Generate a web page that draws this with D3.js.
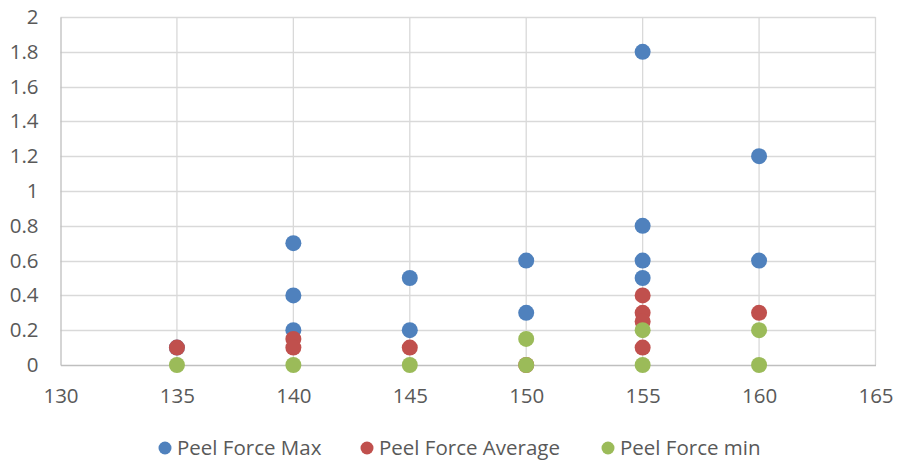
<!DOCTYPE html>
<html><head><meta charset="utf-8">
<script src="https://cdn.jsdelivr.net/npm/d3@7"></script>
<style>body{margin:0;background:#fff}svg text{font-family:"Open Sans",sans-serif;fill:#595959}</style>
</head><body><svg id="c" width="902" height="461"></svg>
<script>
const maxX = [135,140,140,140,145,145,150,150,155,155,155,155,160,160];
const maxY = [0.1,0.7,0.4,0.2,0.5,0.2,0.6,0.3,1.8,0.8,0.6,0.5,1.2,0.6];
const avgX = [135,140,140,145,150,155,155,155,155,160];
const avgY = [0.1,0.15,0.1,0.1,0,0.4,0.3,0.25,0.1,0.3];
const minX = [135,140,145,150,150,155,155,160,160];
const minY = [0,0,0,0.15,0,0.2,0,0.2,0];
const seriesNames = ["Peel Force Max","Peel Force Average","Peel Force min"];
const colors = ["#4F81BD","#C0504D","#9BBB59"];
const xTicks = [130,135,140,145,150,155,160,165];
const yTicks = [0,0.2,0.4,0.6,0.8,1,1.2,1.4,1.6,1.8,2];

const svg = d3.select("#c");
const x = d3.scaleLinear().domain([130,165]).range([60.5,875.5]);
const y = d3.scaleLinear().domain([0,2]).range([365,17]);
const FS = "20.5px";

const g = svg.append("g");
g.selectAll(".hg").data(yTicks.slice(1)).join("line")
 .attr("x1",x(130)).attr("x2",x(165)).attr("y1",d=>Math.round(y(d))+0.5).attr("y2",d=>Math.round(y(d))+0.5)
 .attr("stroke","#d9d9d9").attr("stroke-width",1.3);
g.selectAll(".vg").data(xTicks.slice(1)).join("line")
 .attr("x1",d=>x(d)).attr("x2",d=>x(d)).attr("y1",y(0)).attr("y2",y(2))
 .attr("stroke","#d9d9d9").attr("stroke-width",1.3);

const xAxis = d3.axisBottom(x).tickValues(xTicks).tickSize(0).tickPadding(23).tickFormat(d3.format("d"));
const xa = svg.append("g").attr("transform",`translate(0,${y(0)})`).call(xAxis);
xa.select(".domain").attr("stroke","#bfbfbf").attr("stroke-width",1.3);
xa.selectAll("text").style("font-size",FS).attr("fill","#595959");
const yAxis = d3.axisLeft(y).tickValues(yTicks).tickSize(0).tickPadding(22).tickFormat(d=>String(d));
const ya = svg.append("g").attr("transform",`translate(${x(130)},0)`).call(yAxis);
ya.select(".domain").attr("stroke","#bfbfbf").attr("stroke-width",1.3);
ya.selectAll("text").style("font-size",FS).attr("fill","#595959");

const data = [d3.zip(maxX,maxY), d3.zip(avgX,avgY), d3.zip(minX,minY)];
data.forEach((pts,i)=>{
  svg.append("g").selectAll("circle").data(pts).join("circle")
   .attr("cx",d=>x(d[0])).attr("cy",d=>y(d[1])).attr("r",8).attr("fill",colors[i]);
});

const legX = [165,367,608];
const lg = svg.append("g");
seriesNames.forEach((n,i)=>{
  lg.append("circle").attr("cx",legX[i]).attr("cy",448).attr("r",6.5).attr("fill",colors[i]);
  lg.append("text").attr("x",legX[i]+12).attr("y",448).attr("dy","0.36em").style("font-size",FS).text(n);
});
</script></body></html>
